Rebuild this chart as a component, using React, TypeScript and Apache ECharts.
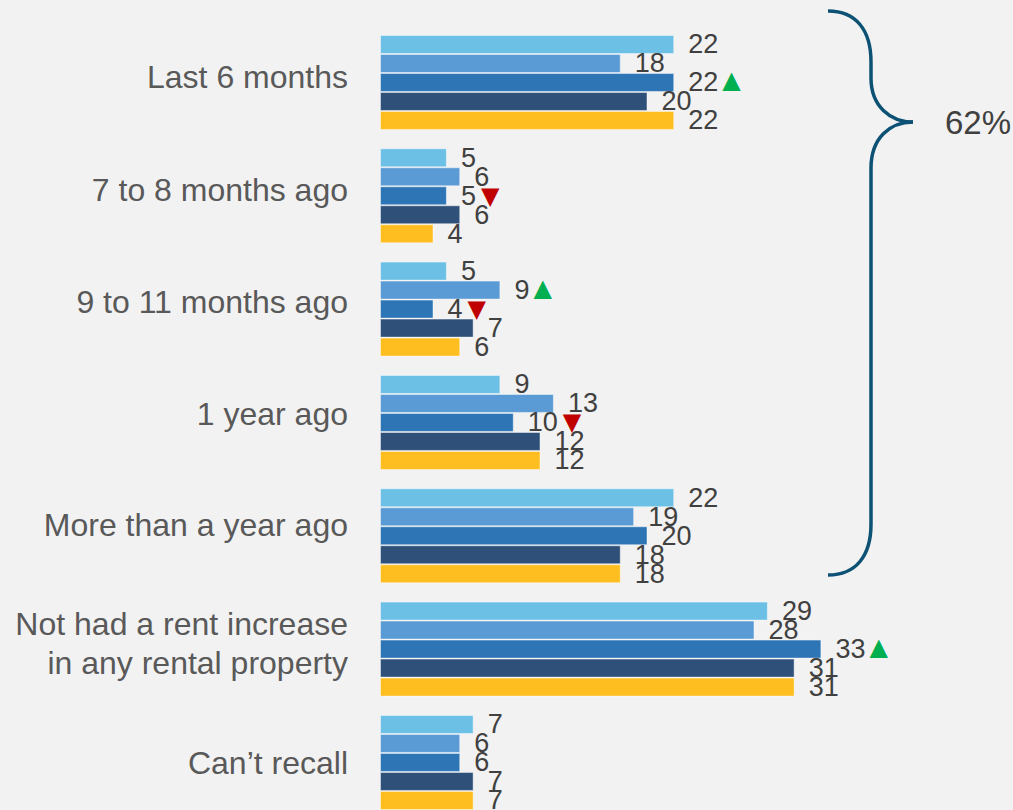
import React, { useEffect, useRef } from "react";
import * as echarts from "echarts";

const categories = [
  "Last 6 months",
  "7 to 8 months ago",
  "9 to 11 months ago",
  "1 year ago",
  "More than a year ago",
  "Not had a rent increase\nin any rental property",
  "Can\u2019t recall",
];

const wave1 = [22, 5, 5, 9, 22, 29, 7];
const wave2 = [18, 6, 9, 13, 19, 28, 6];
const wave3 = [22, 5, 4, 10, 20, 33, 6];
const wave4 = [20, 6, 7, 12, 18, 31, 7];
const wave5 = [22, 4, 6, 12, 18, 31, 7];

// significance markers per series ("up" / "down" / "")
const sig1 = ["", "", "", "", "", "", ""];
const sig2 = ["", "", "up", "", "", "", ""];
const sig3 = ["up", "down", "down", "down", "", "up", ""];
const sig4 = ["", "", "", "", "", "", ""];
const sig5 = ["", "", "", "", "", "", ""];

const seriesValues = [wave1, wave2, wave3, wave4, wave5];
const seriesSig = [sig1, sig2, sig3, sig4, sig5];
const seriesNames = ["Wave 1", "Wave 2", "Wave 3", "Wave 4", "Wave 5"];
const seriesColors = ["#6CC0E5", "#5B9BD5", "#2E75B6", "#2F5078", "#FFBE1F"];

const bracePercent = "62%";

const FONT = "'Liberation Sans', Arial, sans-serif";

// small vertical nudges of the category labels (px, negative = up), layout only
const labelShift = [-5, -6, -7.5, -8.5, -10.5, -5.5, 1];

export default function App() {
  const ref = useRef<HTMLDivElement>(null);

  useEffect(() => {
    if (!ref.current) return;
    const chart = echarts.init(ref.current, null, { renderer: "svg" });
    const braceColor = "#0D5274";
    const braceStyle = { stroke: braceColor, lineWidth: 3.5, fill: null as any };

    const baseLabel = { fontSize: 32, color: "#595959", fontFamily: FONT, lineHeight: 39 };
    const catRich: Record<string, any> = {};
    labelShift.forEach((s, i) => {
      const up = s < 0 ? -2 * s : 0;
      const down = s > 0 ? 2 * s : 0;
      catRich[`s${i}`] = { ...baseLabel, padding: [down, 0, up, 0] };
      catRich[`m${i}`] = { ...baseLabel };
      catRich[`e${i}`] = { fontSize: 1, lineHeight: Math.max(up, down), color: "rgba(0,0,0,0)" };
    });

    chart.setOption({
      animation: false,
      backgroundColor: "#F2F2F2",
      textStyle: { fontFamily: FONT },
      grid: { left: 380, width: 535, top: 25.8, height: 793.3 },
      xAxis: {
        type: "value",
        min: 0,
        max: 40,
        show: false,
      },
      yAxis: {
        type: "category",
        inverse: true,
        data: categories,
        axisLine: { show: false },
        axisTick: { show: false },
        axisLabel: {
          ...baseLabel,
          margin: 32,
          formatter: (val: string, idx: number) => {
            const lines = val.split("\n");
            if (lines.length === 1) return `{s${idx}|${val}}`;
            const body = lines.map((ln) => `{m${idx}|${ln}}`).join("\n");
            return labelShift[idx] < 0 ? `${body}\n{e${idx}| }` : `{e${idx}| }\n${body}`;
          },
          rich: catRich,
        },
      },
      series: seriesValues.map((vals, si) => ({
        name: seriesNames[si],
        type: "bar",
        data: vals,
        barWidth: 19,
        barGap: "0%",
        itemStyle: {
          color: seriesColors[si],
          borderColor: "rgba(255,255,255,0.45)",
          borderWidth: 1,
        },
        label: {
          show: true,
          position: "right",
          distance: 14,
          formatter: (p: any) => {
            const s = seriesSig[si][p.dataIndex];
            let out = `{v|${p.value}}`;
            if (s === "up") out += `{up|\u25B2}`;
            if (s === "down") out += `{down|\u25BC}`;
            return out;
          },
          rich: {
            v: { fontSize: 27, color: "#404040", fontFamily: FONT },
            up: {
              fontSize: 24,
              color: "#00B050",
              fontFamily: "'DejaVu Sans'",
              padding: [0, 0, 4, 4],
            },
            down: {
              fontSize: 24,
              color: "#C00000",
              fontFamily: "'DejaVu Sans'",
              padding: [0, 0, 0, 5],
            },
          },
        },
      })),
      graphic: [
        {
          type: "bezierCurve",
          shape: { x1: 828, y1: 11, cpx1: 856, cpy1: 11, cpx2: 871, cpy2: 30, x2: 871, y2: 62 },
          style: braceStyle,
        },
        {
          type: "line",
          shape: { x1: 871, y1: 62, x2: 871, y2: 78 },
          style: braceStyle,
        },
        {
          type: "bezierCurve",
          shape: { x1: 871, y1: 78, cpx1: 871, cpy1: 106, cpx2: 890, cpy2: 122, x2: 913, y2: 122 },
          style: braceStyle,
        },
        {
          type: "bezierCurve",
          shape: { x1: 913, y1: 122, cpx1: 890, cpy1: 122, cpx2: 871, cpy2: 138, x2: 871, y2: 168 },
          style: braceStyle,
        },
        {
          type: "line",
          shape: { x1: 871, y1: 168, x2: 871, y2: 524 },
          style: braceStyle,
        },
        {
          type: "bezierCurve",
          shape: { x1: 871, y1: 524, cpx1: 871, cpy1: 556, cpx2: 856, cpy2: 575, x2: 828, y2: 575 },
          style: braceStyle,
        },
        {
          type: "text",
          x: 945,
          y: 122,
          style: {
            text: bracePercent,
            fontSize: 33,
            fill: "#404040",
            fontFamily: FONT,
            verticalAlign: "middle",
            align: "left",
          },
        },
      ],
    });

    return () => {
      chart.dispose();
    };
  }, []);

  return (
    <div
      style={{
        position: "fixed",
        left: 0,
        top: 0,
        width: 1013,
        height: 810,
        overflow: "hidden",
      }}
    >
      <div ref={ref} style={{ width: 1013, height: 840 }} />
    </div>
  );
}
